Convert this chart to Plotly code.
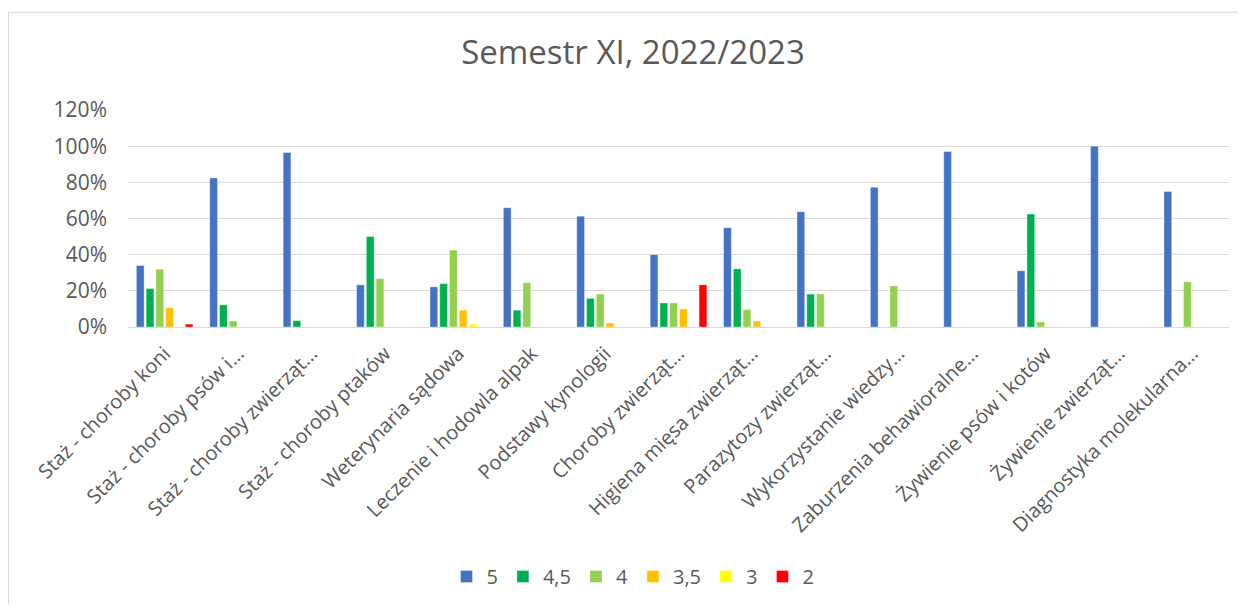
import plotly.graph_objects as go

categories = [
    "Staż - choroby koni",
    "Staż - choroby psów i…",
    "Staż - choroby zwierząt…",
    "Staż - choroby ptaków",
    "Weterynaria sądowa",
    "Leczenie i hodowla alpak",
    "Podstawy kynologii",
    "Choroby zwierząt…",
    "Higiena mięsa zwierząt…",
    "Parazytozy zwierząt…",
    "Wykorzystanie wiedzy…",
    "Zaburzenia behawioralne…",
    "Żywienie psów i kotów",
    "Żywienie zwierząt…",
    "Diagnostyka molekularna…",
]

grade_5 = [34, 82.4, 96.5, 23.3, 22.2, 66, 61.3, 40, 54.9, 63.8, 77.3, 97.1, 31.1, 100, 75]
grade_4_5 = [21.3, 12.2, 3.5, 50, 24, 9.3, 15.8, 13.3, 32.2, 18.2, 0, 0, 62.5, 0, 0]
grade_4 = [32, 3.3, 0, 26.7, 42.5, 24.5, 18.2, 13.3, 9.6, 18.2, 22.7, 0, 2.9, 0, 25]
grade_3_5 = [10.7, 0, 0, 0, 9.3, 0, 2.2, 10, 3.3, 0, 0, 0, 0, 0, 0]
grade_3 = [0, 0, 0, 0, 1.6, 0, 0, 0, 0, 0, 0, 0, 0, 0, 0]
grade_2 = [1.6, 0, 0, 0, 0, 0, 0, 23.3, 0, 0, 0, 0, 0, 0, 0]

series_names = ["5", "4,5", "4", "3,5", "3", "2"]
series_values = [grade_5, grade_4_5, grade_4, grade_3_5, grade_3, grade_2]
series_colors = ["#4472C4", "#00B050", "#92D050", "#FFC000", "#FFFF00", "#FF0000"]

y_ticks = [0, 20, 40, 60, 80, 100, 120]

fig = go.Figure()
for name, vals, col in zip(series_names, series_values, series_colors):
    fig.add_trace(go.Bar(
        x=categories, y=vals, name=name,
        marker=dict(color=col, line=dict(color="rgba(255,255,255,0.6)", width=0.6)),
        hovertemplate="%{x}: %{y}%<extra>" + name + "</extra>",
    ))

text_color = "#595959"
# page has an 8px body margin; figure coordinates = page coordinates - 8
W, H = 1230, 596
L, T = 120, 102
R = W - 1221
B = H - 322
pw, ph = W - L - R, H - T - B

def px_to_paper_x(px):
    return (px - L) / pw

def px_to_paper_y(py):
    return (H - B - py) / ph

fig.update_layout(
    width=W, height=H,
    margin=dict(l=L, r=R, t=T, b=B),
    paper_bgcolor="white", plot_bgcolor="white",
    barmode="group", bargap=0.2, bargroupgap=0.21,
    font=dict(family="Open Sans, sans-serif", color=text_color),
    title=dict(text="Semestr XI, 2022/2023", x=px_to_paper_x(625), xref="paper", xanchor="center",
               y=1 - 44 / H, yanchor="middle",
               font=dict(family="Open Sans, sans-serif", size=33, color=text_color)),
    legend=dict(orientation="h", x=px_to_paper_x(625), xanchor="center", y=px_to_paper_y(575), yref="paper",
                yanchor="middle", font=dict(size=20, color=text_color),
                itemwidth=30, traceorder="normal"),
    xaxis=dict(tickangle=-45, tickfont=dict(size=20, color=text_color),
               showgrid=False, showline=False, ticks="", ticklabelstandoff=10),
    yaxis=dict(range=[0, 120], tickvals=y_ticks, ticktext=[f"{v}%" for v in y_ticks],
               tickfont=dict(size=21, color=text_color),
               showgrid=True, gridcolor="#D9D9D9", gridwidth=1,
               zeroline=True, zerolinecolor="#D9D9D9", zerolinewidth=1,
               showline=False, ticks="", ticklabelstandoff=20),
    shapes=[
        dict(type="line", xref="paper", yref="paper",
             x0=px_to_paper_x(0), x1=px_to_paper_x(W + 10),
             y0=px_to_paper_y(3), y1=px_to_paper_y(3),
             line=dict(color="#D9D9D9", width=1)),
        dict(type="line", xref="paper", yref="paper",
             x0=px_to_paper_x(0.5), x1=px_to_paper_x(0.5),
             y0=px_to_paper_y(3), y1=px_to_paper_y(H + 10),
             line=dict(color="#D9D9D9", width=1)),
    ],
)

fig.write_html("out.html")
